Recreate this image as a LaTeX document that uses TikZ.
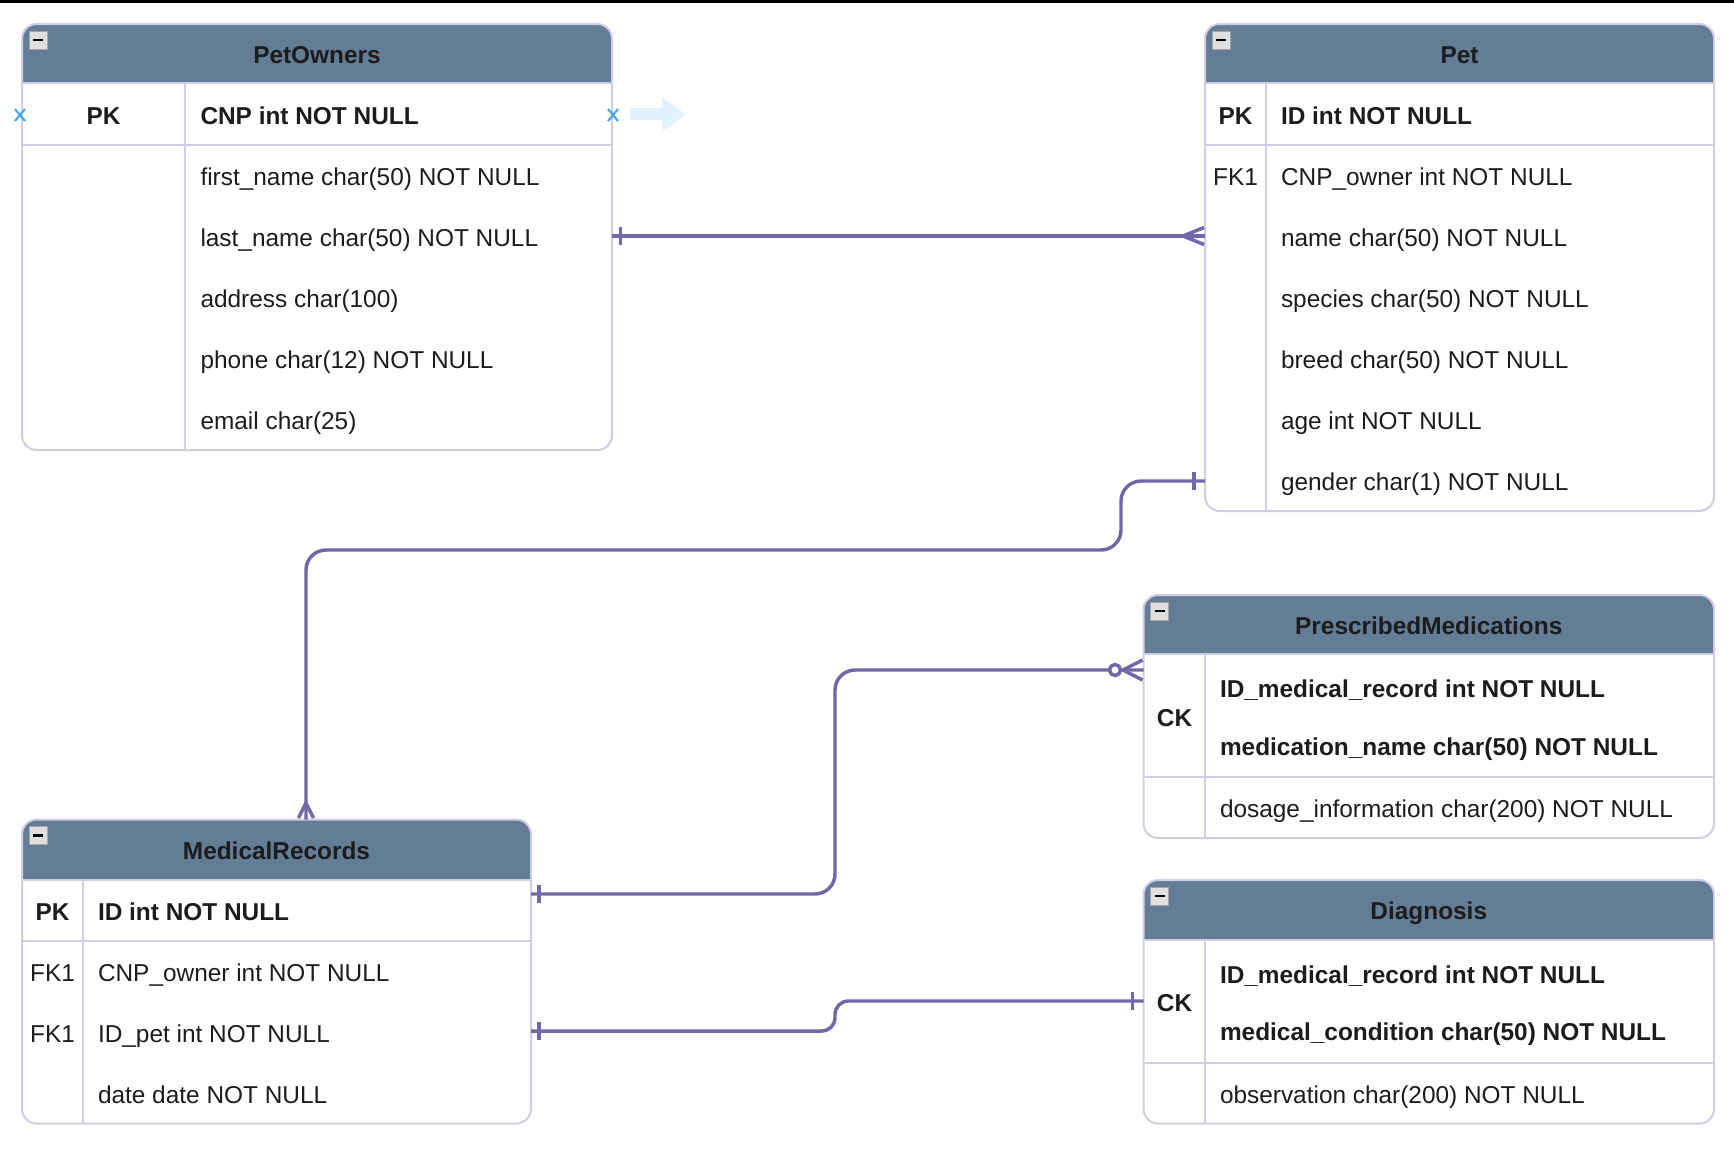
\documentclass[tikz,border=0pt]{standalone}
\usepackage{fontspec}
\setmainfont{Liberation Sans}

\definecolor{headfill}{RGB}{100,125,151}
\definecolor{tabborder}{RGB}{208,205,228}
\definecolor{relcol}{RGB}{112,104,168}
\definecolor{inkcol}{RGB}{28,28,28}
\definecolor{hovblue}{RGB}{70,168,236}
\definecolor{hovpale}{RGB}{226,242,251}

\tikzset{every picture/.style={line width=0.75pt}}
\tikzset{
  tabframe/.style={draw=tabborder, line width=1.5pt, rounded corners=11pt},
  tabline/.style={draw=tabborder, line width=1.5pt},
  minbtn/.style={draw=gray!70, fill=gray!25, line width=0.75pt},
  minbar/.style={draw=black, line width=2pt},
  relline/.style={draw=relcol, line width=2.6pt},
  tabtitle/.style={anchor=base, inner sep=0pt, text=inkcol, font=\fontsize{18.3}{22}\selectfont\bfseries},
  keytxt/.style={anchor=base, inner sep=0pt, text=inkcol, font=\fontsize{18.3}{22}\selectfont\bfseries},
  fktxt/.style={anchor=base, inner sep=0pt, text=inkcol, font=\fontsize{18.3}{22}\selectfont},
  fieldtxt/.style={anchor=base west, inner sep=0pt, text=inkcol, font=\fontsize{18.3}{22}\selectfont},
  fieldkey/.style={anchor=base west, inner sep=0pt, text=inkcol, font=\fontsize{18.3}{22}\selectfont\bfseries},
  hoverx/.style={draw=hovblue, line width=1.6pt}
}

\begin{document}
\begin{tikzpicture}[x=0.75pt,y=0.75pt,yscale=-1,xscale=1]
\useasboundingbox (0,0) rectangle (1734,1150);
%top edge
\fill (0,0) rectangle (1734,3);

%Table: PetOwners
\begin{scope}
\clip [rounded corners=11pt] (22,24) rectangle (612,450);
\fill [headfill] (22,24) rectangle (612,83);
\end{scope}
\draw [tabframe] (22,24) rectangle (612,450);
\draw [tabline] (22,83) -- (612,83) (22,145) -- (612,145) (185,83) -- (185,450);
\draw [minbtn] (29,31) rectangle (47,49);
\draw [minbar] (33,40) -- (43,40);
%hover marks
\draw [hoverx] (15,109) -- (25,121) (15,121) -- (25,109);
\draw [hoverx] (608,109) -- (618,121) (608,121) -- (618,109);
\fill [hovpale] (630,108) -- (662,108) -- (662,97.5) -- (686,114.5) -- (662,131.5) -- (662,120) -- (630,120) -- cycle;

% Text Node
\draw (317,63) node (ownersT) [tabtitle] {PetOwners};
\draw (103.5,124) node (ownersPK) [keytxt] {PK};
\draw (200,124) node (ownersCNP) [fieldkey] {CNP int NOT NULL};
\draw (200,185.5) node (ownersFirst) [fieldtxt] {first\_name char(50) NOT NULL};
\draw (200,246.5) node (ownersLast) [fieldtxt] {last\_name char(50) NOT NULL};
\draw (200,307.5) node (ownersAddr) [fieldtxt] {address char(100)};
\draw (200,368.5) node (ownersPhone) [fieldtxt] {phone char(12) NOT NULL};
\draw (200,429.5) node (ownersMail) [fieldtxt] {email char(25)};

%Table: Pet
\begin{scope}
\clip [rounded corners=11pt] (1205,24) rectangle (1714,511);
\fill [headfill] (1205,24) rectangle (1714,83);
\end{scope}
\draw [tabframe] (1205,24) rectangle (1714,511);
\draw [tabline] (1205,83) -- (1714,83) (1205,145) -- (1714,145) (1266,83) -- (1266,511);
\draw [minbtn] (1212,31) rectangle (1230,49);
\draw [minbar] (1216,40) -- (1226,40);

% Text Node
\draw (1459.5,63) node (petT) [tabtitle] {Pet};
\draw (1235.5,124) node (petPK) [keytxt] {PK};
\draw (1280.5,124) node (petID) [fieldkey] {ID int NOT NULL};
\draw (1235.5,185.5) node (petFK) [fktxt] {FK1};
\draw (1280.5,185.5) node (petOwner) [fieldtxt] {CNP\_owner int NOT NULL};
\draw (1280.5,246.5) node (petName) [fieldtxt] {name char(50) NOT NULL};
\draw (1280.5,307.5) node (petSpecies) [fieldtxt] {species char(50) NOT NULL};
\draw (1280.5,368.5) node (petBreed) [fieldtxt] {breed char(50) NOT NULL};
\draw (1280.5,429.5) node (petAge) [fieldtxt] {age int NOT NULL};
\draw (1280.5,490.5) node (petGender) [fieldtxt] {gender char(1) NOT NULL};

%Table: PrescribedMedications
\begin{scope}
\clip [rounded corners=11pt] (1143.5,595) rectangle (1714,838);
\fill [headfill] (1143.5,595) rectangle (1714,654);
\end{scope}
\draw [tabframe] (1143.5,595) rectangle (1714,838);
\draw [tabline] (1143.5,654) -- (1714,654) (1143.5,777) -- (1714,777) (1205,654) -- (1205,838);
\draw [minbtn] (1150.5,602) rectangle (1168.5,620);
\draw [minbar] (1154.5,611) -- (1164.5,611);

% Text Node
\draw (1428.75,634) node (rxT) [tabtitle] {PrescribedMedications};
\draw (1174.5,726) node (rxCK) [keytxt] {CK};
\draw (1219.5,697.5) node (rxRec) [fieldkey] {ID\_medical\_record int NOT NULL};
\draw (1219.5,755) node (rxMed) [fieldkey] {medication\_name char(50) NOT NULL};
\draw (1219.5,817.5) node (rxDose) [fieldtxt] {dosage\_information char(200) NOT NULL};

%Table: Diagnosis
\begin{scope}
\clip [rounded corners=11pt] (1143.5,880) rectangle (1714,1123.5);
\fill [headfill] (1143.5,880) rectangle (1714,940);
\end{scope}
\draw [tabframe] (1143.5,880) rectangle (1714,1123.5);
\draw [tabline] (1143.5,940) -- (1714,940) (1143.5,1062.5) -- (1714,1062.5) (1205,940) -- (1205,1123.5);
\draw [minbtn] (1150.5,887) rectangle (1168.5,905);
\draw [minbar] (1154.5,896) -- (1164.5,896);

% Text Node
\draw (1428.75,919.5) node (dgT) [tabtitle] {Diagnosis};
\draw (1174.5,1011.5) node (dgCK) [keytxt] {CK};
\draw (1219.5,983) node (dgRec) [fieldkey] {ID\_medical\_record int NOT NULL};
\draw (1219.5,1040.5) node (dgCond) [fieldkey] {medical\_condition char(50) NOT NULL};
\draw (1219.5,1103) node (dgObs) [fieldtxt] {observation char(200) NOT NULL};

%Table: MedicalRecords
\begin{scope}
\clip [rounded corners=11pt] (22,819.5) rectangle (531,1123.5);
\fill [headfill] (22,819.5) rectangle (531,879.5);
\end{scope}
\draw [tabframe] (22,819.5) rectangle (531,1123.5);
\draw [tabline] (22,879.5) -- (531,879.5) (22,941) -- (531,941) (83,879.5) -- (83,1123.5);
\draw [minbtn] (29,826.5) rectangle (47,844.5);
\draw [minbar] (33,835.5) -- (43,835.5);

% Text Node
\draw (276.5,859) node (medT) [tabtitle] {MedicalRecords};
\draw (52.5,920) node (medPK) [keytxt] {PK};
\draw (97.5,920) node (medID) [fieldkey] {ID int NOT NULL};
\draw (52.5,981.5) node (medFK1) [fktxt] {FK1};
\draw (97.5,981.5) node (medOwner) [fieldtxt] {CNP\_owner int NOT NULL};
\draw (52.5,1042.5) node (medFK2) [fktxt] {FK1};
\draw (97.5,1042.5) node (medPet) [fieldtxt] {ID\_pet int NOT NULL};
\draw (97.5,1103) node (medDate) [fieldtxt] {date date NOT NULL};

%Relations: end points on the table edges
\coordinate (ownLastEnd) at (612,236);
\coordinate (petOwnEnd) at (1205,236);
\coordinate (petGenEnd) at (1205,481);
\coordinate (medTopEnd) at (306,819.5);
\coordinate (medIDEnd) at (531,894);
\coordinate (rxEnd) at (1143.5,670);
\coordinate (medPetEnd) at (531,1031);
\coordinate (dgEnd) at (1143.5,1001);

%PetOwners -> Pet
\draw [relline] (ownLastEnd) -- (petOwnEnd);
\draw [relline] (ownLastEnd) ++(8.5,-9) -- ++(0,18);
\draw [relline] (petOwnEnd) ++(-1,-8.5) -- ++(-21,8.5) -- ++(21,8.5);

%Pet -> MedicalRecords
\draw [relline, rounded corners=15pt] (petGenEnd) -| (1121,550) -| (medTopEnd);
\draw [relline] (petGenEnd) ++(-11,-9) -- ++(0,18);
\draw [relline] (medTopEnd) ++(-7.5,-1.5) -- ++(7.5,-15) -- ++(7.5,15);

%MedicalRecords -> PrescribedMedications
\draw [relline, rounded corners=15pt] (medIDEnd) -| (835,670) -- (rxEnd);
\draw [relline] (medIDEnd) ++(8,-9) -- ++(0,18);
\draw [relline] (rxEnd) ++(-1,-10) -- ++(-19.5,10) -- ++(19.5,10);
\draw [relline, fill=white] (rxEnd) ++(-28.5,0) circle (5.5);

%MedicalRecords -> Diagnosis
\draw [relline, rounded corners=10pt] (medPetEnd) -| (835,1001) -- (dgEnd);
\draw [relline] (medPetEnd) ++(8,-9) -- ++(0,18);
\draw [relline] (dgEnd) ++(-11,-9) -- ++(0,18);

\end{tikzpicture}
\end{document}
